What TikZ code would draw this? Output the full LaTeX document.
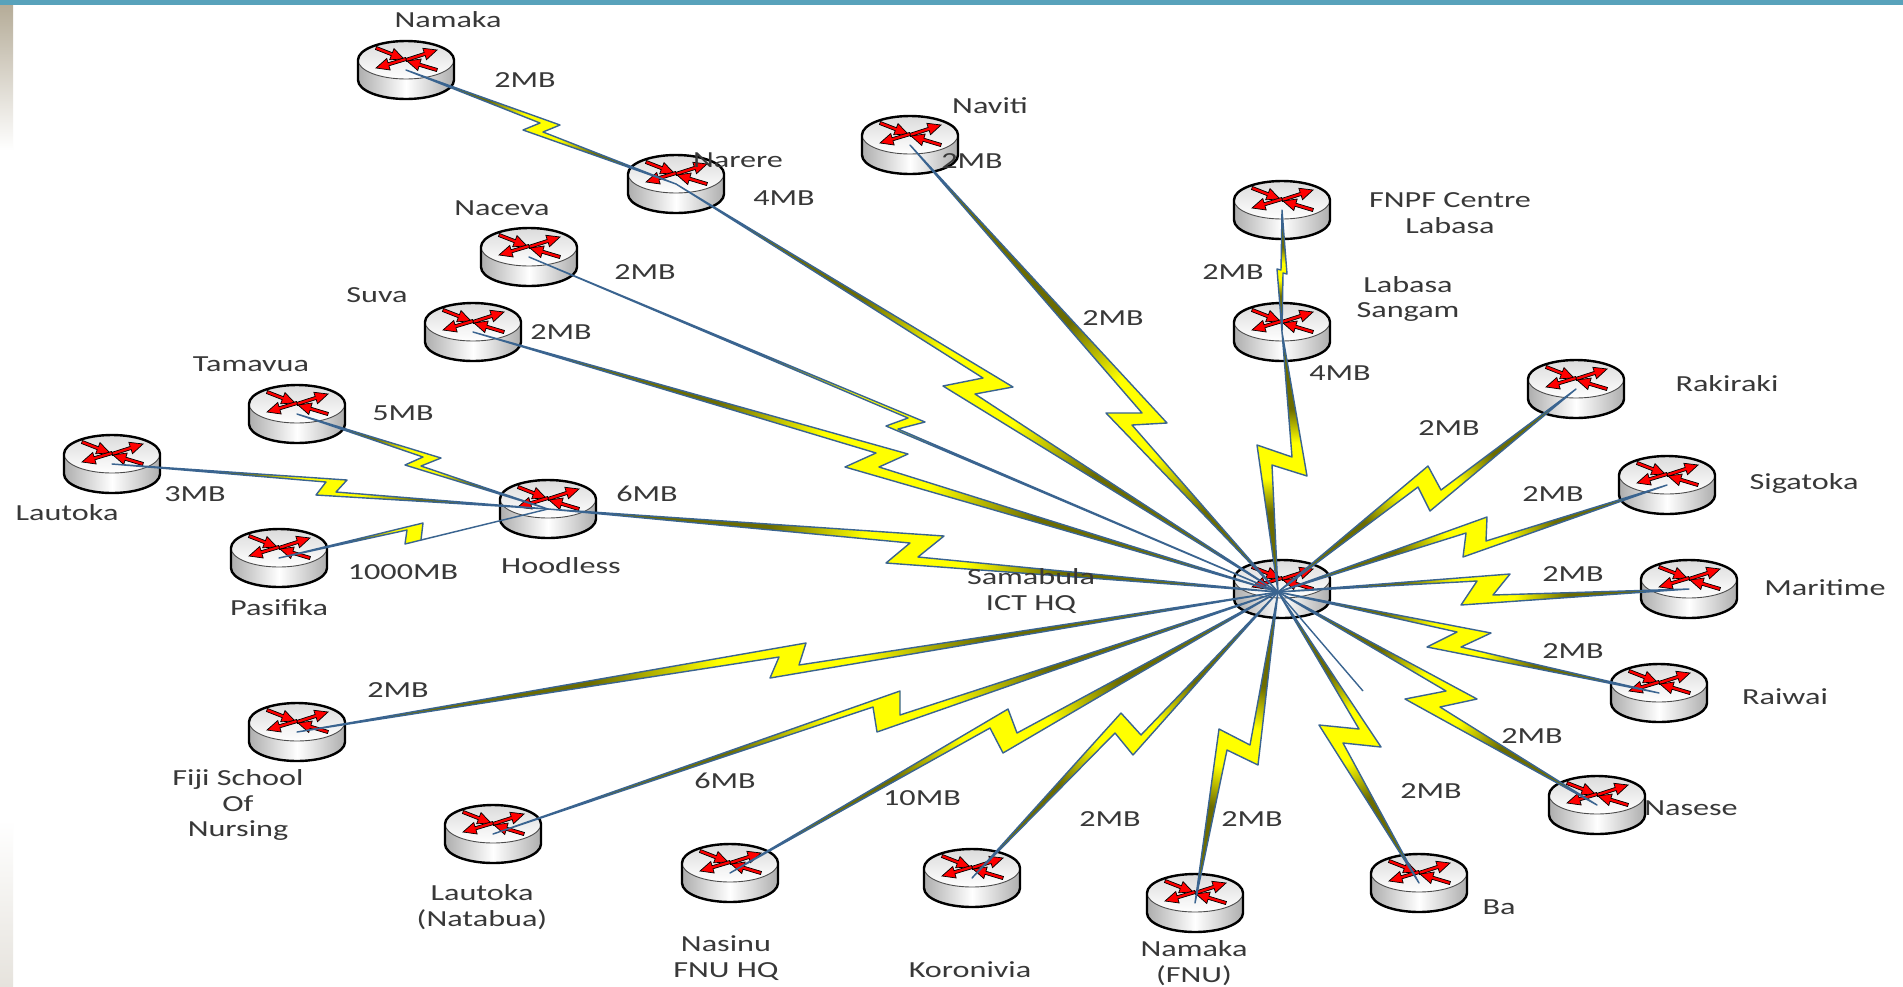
\documentclass[tikz,border=0pt]{standalone}
\usepackage{fontspec}
\setmainfont[FakeStretch=1.4]{Carlito}
\usetikzlibrary{calc}
\definecolor{boltdark}{HTML}{6C6C00}
\definecolor{boltyellow}{HTML}{FFFF00}
\definecolor{boltblue}{HTML}{3A6490}
\definecolor{bartop}{HTML}{58A2BB}
\definecolor{stripb}{HTML}{B5AC98}
\definecolor{stripe}{HTML}{E6E3DD}
\definecolor{labelgray}{HTML}{383838}
\pgfdeclarehorizontalshading{boltgrad}{100bp}{color(0bp)=(boltdark); color(45bp)=(boltdark); color(48.25bp)=(boltyellow); color(51.75bp)=(boltyellow); color(55bp)=(boltdark); color(100bp)=(boltdark)}
\tikzset{
  lab/.style={font=\fontsize{23}{25.5}\selectfont,text=labelgray,align=center,inner sep=0pt},
  rtr/.style={inner sep=0pt,minimum width=96pt,minimum height=58pt},
  boltedge/.style={draw=boltblue,line width=1.4pt,line join=round},
  stubline/.style={draw=boltblue,line width=1.4pt},
  rarrow/.style={fill=red,draw=black,line width=0.7pt,line join=miter},
  router/.pic={
    \begin{scope}[y=1pt]
      \shade[left color=black!32,right color=black!32,middle color=white]
        (-48,10) -- (-48,-10) arc (180:360:48pt and 19pt) -- (48,10) arc (0:180:48pt and 19pt) -- cycle;
      \shade[top color=black!14,bottom color=white] (0,10) ellipse (48pt and 19pt);
      \draw[black!70,line width=0.9pt] (-48,10) arc (180:360:48pt and 19pt);
      \foreach \tx/\ty/\ang/\len in {-30/22/-21.4/30,0/10/17.9/32.6,0/11/-163.3/31.3,31/0/163.3/31.3}{
        \draw[rarrow,shift={(\tx,\ty)},rotate=\ang]
          (0,-1.6) -- ({\len-13},-1.6) -- ({\len-13},-6) -- (\len,0) -- ({\len-13},6) -- ({\len-13},1.6) -- (0,1.6) -- cycle;
      }
      \draw[black,line width=2.4pt,line join=round]
        (-48,10) -- (-48,-10) arc (180:360:48pt and 19pt) -- (48,10) arc (0:180:48pt and 19pt) -- cycle;
    \end{scope}
  }
}
\newcommand\router[3]{\pic at (#2,#3) {router}; \node[rtr] (#1) at (#2,#3) {};}
% #1 start node, #2 end, #3 notch, #4 tip, #5 notch, #6 tip
\newcommand\bolt[6]{%
  \path let \p1=(#1.center),\p2=(#2.center),
    \n1={atan2(\y2-\y1,\x2-\x1)},\n2={veclen(\x2-\x1,\y2-\y1)} in
    \pgfextra{\xdef\boltang{\n1}\xdef\boltlen{\n2}};
  \coordinate (boltmid) at ($#4!0.5!#6$);
  \begin{scope}
    \clip (#1.center) -- #3 -- #4 -- (#2.center) -- #5 -- #6 -- cycle;
    \begin{scope}[transform canvas={shift={(boltmid)},rotate=\boltang}]
      \shade[shading=boltgrad] (-\boltlen,-80) rectangle (\boltlen,80);
    \end{scope}
  \end{scope}
  \draw[boltedge] (#1.center) -- #3 -- #4 -- (#2.center) -- #5 -- #6 -- cycle;
}
\begin{document}
\begin{tikzpicture}[x=1pt,y=-1pt]
\useasboundingbox (0,0) rectangle (1903,986);
\fill[white] (0,0) rectangle (1903,986);
\shade[top color=stripb,bottom color=white] (0,5) rectangle (13,150);
\shade[top color=white,bottom color=stripe] (0,820) rectangle (13,986);
\fill[bartop] (0,0) rectangle (1903,5);

\router{namaka}{406}{70}
\router{narere}{676}{184}
\router{naviti}{910}{145}
\router{naceva}{529}{257}
\router{suva}{473}{332}
\router{tamavua}{297}{414}
\router{lautoka}{112}{464}
\router{pasifika}{279}{558}
\router{hoodless}{548}{509}
\router{fnpf}{1282}{210}
\router{labasa}{1282}{332}
\router{rakiraki}{1576}{389}
\router{sigatoka}{1667}{485}
\router{maritime}{1689}{589}
\router{raiwai}{1659}{693}
\router{nasese}{1597}{805}
\router{ba}{1419}{883}
\router{namakafnu}{1195}{903}
\router{koronivia}{972}{878}
\router{nasinu}{730}{873}
\router{natabua}{493}{834}
\router{fiji}{297}{732}
\router{samabula}{1282}{589}
\node[inner sep=0pt] (hub) at (1278,592) {};
\coordinate (stub) at (1363,691);

\draw[stubline] (hub.center) -- (stub);
\bolt{namaka}{narere}{(540,123)}{(523,130)}{(543,132)}{(560,125)}
\bolt{narere}{hub}{(983,378)}{(943,386)}{(975,394)}{(1013,387)}
\bolt{naceva}{hub}{(908,418)}{(886,426)}{(898,429)}{(925,422)}
\bolt{suva}{hub}{(876,453)}{(845,467)}{(879,467)}{(908,454)}
\bolt{naviti}{hub}{(1142,413)}{(1106,413)}{(1132,425)}{(1167,423)}
\bolt{hoodless}{hub}{(910,543)}{(886,563)}{(918,557)}{(944,536)}
\bolt{fnpf}{labasa}{(1281,270)}{(1277,269)}{(1283,273)}{(1287,274)}
\bolt{labasa}{hub}{(1292,457)}{(1257,445)}{(1272,465)}{(1307,476)}
\bolt{rakiraki}{hub}{(1441,490)}{(1428,466)}{(1418,487)}{(1430,511)}
\bolt{sigatoka}{hub}{(1486,541)}{(1487,517)}{(1466,533)}{(1463,557)}
\bolt{maritime}{hub}{(1493,595)}{(1510,574)}{(1477,581)}{(1461,605)}
\bolt{raiwai}{hub}{(1461,647)}{(1491,633)}{(1457,632)}{(1427,647)}
\bolt{nasese}{hub}{(1440,707)}{(1477,699)}{(1446,691)}{(1405,699)}
\bolt{ba}{hub}{(1343,743)}{(1381,747)}{(1359,729)}{(1319,725)}
\bolt{namakafnu}{hub}{(1227,750)}{(1258,765)}{(1250,745)}{(1219,729)}
\bolt{koronivia}{hub}{(1115,733)}{(1133,755)}{(1141,735)}{(1121,713)}
\bolt{nasinu}{hub}{(990,728)}{(1003,753)}{(1017,733)}{(1008,709)}
\bolt{natabua}{hub}{(873,707)}{(877,732)}{(900,715)}{(900,691)}
\bolt{fiji}{hub}{(779,657)}{(770,678)}{(799,665)}{(806,643)}
\bolt{tamavua}{hoodless}{(423,457)}{(405,465)}{(421,466)}{(441,458)}
\bolt{lautoka}{hoodless}{(326,482)}{(316,495)}{(336,492)}{(347,480)}
\bolt{pasifika}{hoodless}{(407,530)}{(405,544)}{(421,540)}{(423,523)}

\node[lab] (t1) at (448,20) {Namaka};
\node[lab] (t2) at (525,80) {2MB};
\node[lab] (t3) at (738,160) {Narere};
\node[lab] (t4) at (784,198) {4MB};
\node[lab] (t5) at (990,106) {Naviti};
\node[lab] (t6) at (972,161) {2MB};
\node[lab] (t7) at (502,208) {Naceva};
\node[lab] (t8) at (645,272) {2MB};
\node[lab] (t9) at (377,295) {Suva};
\node[lab] (t10) at (561,332) {2MB};
\node[lab] (t11) at (251,364) {Tamavua};
\node[lab] (t12) at (403,413) {5MB};
\node[lab] (t13) at (67,513) {Lautoka};
\node[lab] (t14) at (195,494) {3MB};
\node[lab] (t15) at (403,572) {1000MB};
\node[lab] (t16) at (279,608) {Pasifika};
\node[lab] (t17) at (561,566) {Hoodless};
\node[lab] (t18) at (647,494) {6MB};
\node[lab] (t19) at (1031,591) {Samabula\\ICT HQ};
\node[lab] (t20) at (1233,272) {2MB};
\node[lab] (t21) at (1113,318) {2MB};
\node[lab] (t22) at (1450,213) {FNPF Centre\\Labasa};
\node[lab] (t23) at (1408,299) {Labasa\\Sangam};
\node[lab] (t24) at (1340,373) {4MB};
\node[lab] (t25) at (1449,428) {2MB};
\node[lab] (t26) at (1727,384) {Rakiraki};
\node[lab] (t27) at (1553,494) {2MB};
\node[lab] (t28) at (1804,483) {Sigatoka};
\node[lab] (t29) at (1573,574) {2MB};
\node[lab] (t30) at (1825,588) {Maritime};
\node[lab] (t31) at (1573,651) {2MB};
\node[lab] (t32) at (1785,697) {Raiwai};
\node[lab] (t33) at (1532,736) {2MB};
\node[lab] (t34) at (1691,808) {Nasese};
\node[lab] (t35) at (1431,791) {2MB};
\node[lab] (t36) at (1499,907) {Ba};
\node[lab] (t37) at (1252,819) {2MB};
\node[lab] (t38) at (1194,963) {Namaka\\(FNU)};
\node[lab] (t39) at (1110,819) {2MB};
\node[lab] (t40) at (970,970) {Koronivia};
\node[lab] (t41) at (922,798) {10MB};
\node[lab] (t42) at (726,958) {Nasinu\\FNU HQ};
\node[lab] (t43) at (725,781) {6MB};
\node[lab] (t44) at (482,907) {Lautoka\\(Natabua)};
\node[lab] (t45) at (398,690) {2MB};
\node[lab] (t46) at (238,805) {Fiji School\\Of\\Nursing};
\end{tikzpicture}
\end{document}
